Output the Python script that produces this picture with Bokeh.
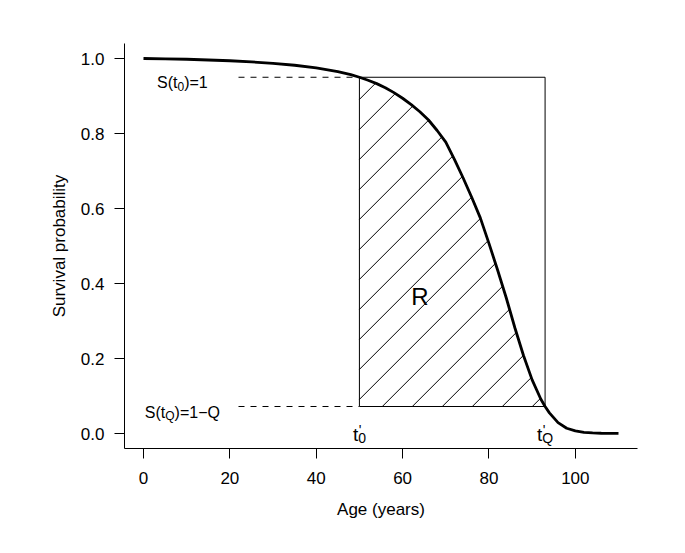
import numpy as np
from bokeh.plotting import figure
from bokeh.models import ColumnDataSource, FixedTicker, PrintfTickFormatter
from bokeh.core.properties import value
from bokeh.embed import file_html
from bokeh.resources import INLINE

# ---- data ----
ages = [0, 5, 10, 15, 20, 25, 30, 35, 40, 45, 48, 50, 52, 54, 56, 58, 60, 62, 64,
        66, 68, 70, 72, 74, 76, 78, 80, 82, 84, 86, 88, 90, 92, 93, 94, 96, 98,
        100, 102, 104, 106, 108, 110]
survival = [1.000, 0.999, 0.998, 0.996, 0.994, 0.991, 0.987, 0.982, 0.975, 0.965,
            0.957, 0.950, 0.942, 0.933, 0.922, 0.909, 0.894, 0.877, 0.858,
            0.836, 0.808, 0.777, 0.731, 0.682, 0.630, 0.575, 0.507, 0.436, 0.362,
            0.282, 0.208, 0.143, 0.092, 0.072, 0.055, 0.029, 0.014,
            0.007, 0.003, 0.0015, 0.0007, 0.0003, 0.0001]

t0 = 50.0          # t'_0
tQ = 93.0          # t'_Q
s_t0 = 0.95        # S(t0)=1 level
s_tQ = 0.072       # S(tQ)=1-Q level
dash_start = 22.0
label_x = 9.0
region_label = "R"
region_xy = (64.0, 0.365)

x_ticks = [0, 20, 40, 60, 80, 100]
y_ticks = [0.0, 0.2, 0.4, 0.6, 0.8, 1.0]
x_label = "Age (years)"
y_label = "Survival probability"

# ---- figure ----
XMIN, XMAX = -4.4, 114.4
YMIN, YMAX = -0.04, 1.04
FW, FH = 513, 405
FONT = "Liberation Sans"

p = figure(frame_width=FW, frame_height=FH, x_range=(XMIN, XMAX), y_range=(YMIN, YMAX),
           output_backend="svg", toolbar_location=None,
           min_border_left=124, min_border_top=43, min_border_right=30, min_border_bottom=90)
p.outline_line_color = None
p.xgrid.grid_line_color = None
p.ygrid.grid_line_color = None
p.background_fill_color = "white"
p.border_fill_color = "white"

for ax in (p.xaxis[0], p.yaxis[0]):
    ax.axis_line_color = "black"
    ax.axis_line_width = 1
    ax.major_tick_line_color = "black"
    ax.major_tick_out = 10
    ax.major_tick_in = 0
    ax.minor_tick_line_color = None
    ax.major_label_text_font = FONT
    ax.major_label_text_font_size = "17px"
    ax.major_label_text_color = "black"
    ax.axis_label_text_font = FONT
    ax.axis_label_text_font_size = "17px"
    ax.axis_label_text_font_style = "normal"
    ax.axis_label_text_color = "black"

p.xaxis[0].ticker = FixedTicker(ticks=x_ticks)
p.yaxis[0].ticker = FixedTicker(ticks=y_ticks)
p.yaxis[0].formatter = PrintfTickFormatter(format="%.1f")
p.yaxis[0].major_label_orientation = "horizontal"
p.xaxis[0].axis_label = x_label
p.yaxis[0].axis_label = y_label
p.xaxis[0].major_label_standoff = 13
p.yaxis[0].major_label_standoff = 10
p.xaxis[0].axis_label_standoff = 13
p.yaxis[0].axis_label_standoff = 9

# ---- hatching of region R (45 degrees on screen) ----
kx = FW / (XMAX - XMIN)
ky = FH / (YMAX - YMIN)
ax_ = np.array(ages, dtype=float)
sv_ = np.array(survival, dtype=float)
spacing = 30.0
phase = -271.8
hx0, hy0, hx1, hy1 = [], [], [], []
mask = (ax_ >= t0) & (ax_ <= tQ)
grid = ax_[mask]
gv = sv_[mask]
for k in range(-8, 20):
    c = phase + spacing * k          # screen: y*ky - x*kx = c
    line_y = lambda x: (c + x * kx) / ky
    xs = t0
    if line_y(xs) < s_tQ:
        xs = (s_tQ * ky - c) / kx
    if xs >= tQ or line_y(xs) > s_t0:
        continue
    diff = gv - line_y(grid)
    xe = None
    for i in range(len(grid) - 1):
        if diff[i] >= 0 and diff[i + 1] < 0:
            f = diff[i] / (diff[i] - diff[i + 1])
            xe = grid[i] + f * (grid[i + 1] - grid[i])
            break
    if xe is None or xe <= xs:
        continue
    hx0.append(xs); hy0.append(line_y(xs)); hx1.append(xe); hy1.append(line_y(xe))
p.segment(hx0, hy0, hx1, hy1, line_color="black", line_width=1)

# rectangle
p.line([t0, tQ, tQ, t0, t0], [s_t0, s_t0, s_tQ, s_tQ, s_t0], line_color="black", line_width=1)
# dashed guides
p.segment([dash_start, dash_start], [s_t0, s_tQ], [t0, t0], [s_t0, s_tQ],
          line_color="black", line_width=1, line_dash="6 6")

# survival curve
p.line(ages, survival, line_color="black", line_width=2.8)

# ---- text ----
adv = {'S': 0.667, '(': 0.333, 't': 0.278, ')': 0.333, '=': 0.584, '1': 0.556,
       '0': 0.556, 'Q': 0.778, '\u2212': 0.584, "'": 0.191}
def tw(s, fs):
    return sum(adv[ch] for ch in s) * fs

rows = dict(x=[], y=[], text=[], size=[], xo=[], yo=[])
def add(x, y, text, fs, xo, yo):
    rows['x'].append(x); rows['y'].append(y); rows['text'].append(text)
    rows['size'].append(f"{fs}px"); rows['xo'].append(xo); rows['yo'].append(yo)

def s_label(y, sub, rest):
    total = tw("S(t", 16) + tw(sub, 12) + tw(rest, 16)
    x0 = -total / 2
    add(label_x, y, "S(t", 16, x0, 5.6)
    x0 += tw("S(t", 16)
    add(label_x, y, sub, 12, x0, 9.6)
    x0 += tw(sub, 12)
    add(label_x, y, rest, 16, x0, 5.6)

s_label(s_t0, "0", ")=1")
s_label(s_tQ, "Q", ")=1\u2212Q")

def t_label(x, sub):
    total = tw("t", 19) + tw(sub, 14)
    x0 = -total / 2
    add(x, 0.0, "t", 19, x0, 1.0)
    x0 += tw("t", 19)
    add(x, 0.0, sub, 14, x0, 4.4)
    add(x, 0.0, "'", 14, x0 + 0.5, -3.5)

t_label(t0, "0")
t_label(tQ, "Q")

src = ColumnDataSource(rows)
p.text(x='x', y='y', text='text', x_offset='xo', y_offset='yo', text_font_size='size',
       source=src, text_font=value(FONT), text_color="black",
       text_align="left", text_baseline="alphabetic")

p.text(x=[region_xy[0]], y=[region_xy[1]], text=[region_label], text_font=value(FONT),
       text_font_size="24px", text_align="center", text_baseline="middle", text_color="black")

open("out.html", "w").write(file_html(p, INLINE))
